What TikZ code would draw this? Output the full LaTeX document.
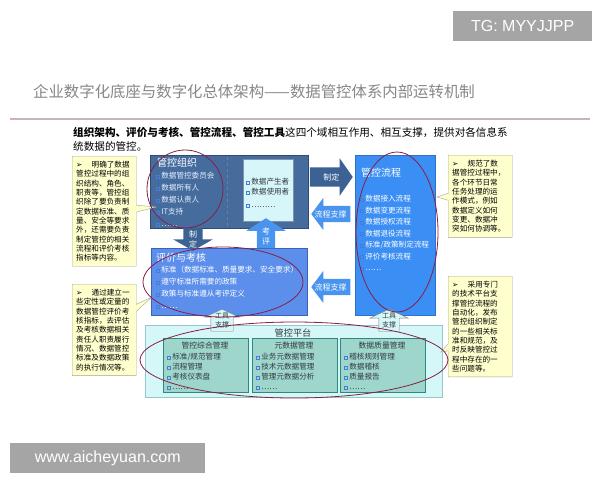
\documentclass[tikz,border=0pt]{standalone}
\usepackage{fontspec}
\setmainfont{Noto Sans CJK SC}
\newfontfamily\dv{DejaVu Sans}
\newfontfamily\wmfont{Liberation Sans}
\usepackage{xcolor}
\usetikzlibrary{shapes.arrows}
\usetikzlibrary{shapes.callouts}
\usetikzlibrary{positioning}
\usetikzlibrary{calc}

\definecolor{orgblue}{RGB}{70,108,158}
\definecolor{orgline}{RGB}{45,75,115}
\definecolor{cyanbox}{RGB}{215,246,250}
\definecolor{evalblue}{RGB}{92,143,236}
\definecolor{evalline}{RGB}{60,100,180}
\definecolor{flowblue}{RGB}{58,142,244}
\definecolor{lightarrow}{RGB}{72,148,238}
\definecolor{darkarrow}{RGB}{60,98,148}
\definecolor{platcyan}{RGB}{214,247,247}
\definecolor{platline}{RGB}{150,200,200}
\definecolor{subteal}{RGB}{158,214,204}
\definecolor{subline}{RGB}{48,135,125}
\definecolor{noteyellow}{RGB}{255,255,206}
\definecolor{notegray}{RGB}{165,165,145}
\definecolor{ringred}{RGB}{135,30,72}
\definecolor{bulletc}{RGB}{70,125,215}
\definecolor{titlegray}{RGB}{135,135,135}
\definecolor{rulepink}{RGB}{205,178,182}
\definecolor{wmgray}{RGB}{165,165,165}
\definecolor{darktext}{RGB}{50,58,62}
\definecolor{paletext}{RGB}{228,240,255}

\newcommand{\bx}{{\color{bulletc}\fboxsep=0pt\fboxrule=0.5pt\raisebox{0.6pt}{\fbox{\rule{0pt}{2.6pt}\hspace{2.6pt}}}}\hspace{1.5pt}}
\newcommand{\fs}[2]{\fontsize{#1}{#2}\selectfont}

\tikzset{
  panel/.style={draw, rectangle, anchor=north west, inner sep=0pt},
  ttl/.style={anchor=west, inner sep=0pt, text=white, font=\fs{10}{12}},
  items/.style={anchor=north west, inner sep=0pt, align=left, font=\fs{7.6}{12}},
  note/.style={rectangle callout, draw=notegray, fill=noteyellow, anchor=north west,
    inner xsep=4pt, inner ysep=5pt, text width=56pt, align=left, font=\fs{7.6}{9.3},
    callout pointer width=7pt},
  fat/.style={single arrow, draw=none, anchor=tip, inner sep=0pt},
  fattxt/.style={align=center, inner sep=0pt, text=white, font=\fs{8}{10}},
  ring/.style={draw=ringred, line width=0.8pt},
  watermark/.style={fill=wmgray, text=white, anchor=north west, inner sep=0pt, font=\wmfont\fs{16}{16}}
}

\begin{document}
\begin{tikzpicture}[x=1pt,y=-1pt]
\fill[white] (0,0) rectangle (600,480);
\useasboundingbox (0,0) rectangle (600,480);

% watermarks
\node[watermark, minimum width=139pt, minimum height=30pt] (tg) at (453,11) {TG: MYYJJPP};
\node[watermark, minimum width=195pt, minimum height=30pt] (web) at (10,443) {www.aicheyuan.com\hspace{12pt}};

% heading
\node[anchor=west, inner sep=0pt, text=titlegray, font=\fs{15.4}{16}] (title) at (33,92)
  {企业数字化底座与数字化总体架构——数据管控体系内部运转机制};
\draw[rulepink, line width=1.2pt] (10,119) -- (590,119);
\node[anchor=north west, inner sep=0pt, align=left, font=\fs{10.6}{14}] (intro) at (73,127)
  {\textbf{组织架构、评价与考核、管控流程、管控工具}这四个域相互作用、相互支撑，提供对各信息系\\统数据的管控。};

% four domains
\node[panel, draw=orgline, fill=orgblue, minimum width=158pt, minimum height=73pt] (org) at (150,155) {};
\draw[dashed, orgline!70!white] (227,157) -- (227,226);
\node[panel, draw=orgline!60, fill=cyanbox, minimum width=50pt, minimum height=62pt] (users) at (243,159) {};
\node[panel, draw=evalline, fill=evalblue, minimum width=156pt, minimum height=67pt] (eval) at (151,248) {};
\node[panel, draw=flowblue!80!black, fill=flowblue, minimum width=80pt, minimum height=160pt] (flow) at (355,155) {};
\node[panel, draw=platline, fill=platcyan, minimum width=297pt, minimum height=72pt] (plat) at (145,325) {};
\node[panel, draw=subline, fill=subteal, line width=0.8pt, minimum width=85pt, minimum height=54pt] (pz) at (163,338) {};
\node[panel, draw=subline, fill=subteal, line width=0.8pt, minimum width=85pt, minimum height=54pt] (pm) at (252,338) {};
\node[panel, draw=subline, fill=subteal, line width=0.8pt, minimum width=85pt, minimum height=54pt] (pq) at (340,338) {};

\node[ttl] at (157,163) {管控组织};
\node[items, text=paletext] at (156,172) {\bx 数据管控委员会\\\bx 数据所有人\\\bx 数据认责人\\\bx IT支持\\\bx ……};
\node[items, text=darktext, font=\fs{7.6}{10}] at (246,178) {\bx 数据产生者\\\bx 数据使用者\\[3pt]\bx ………};
\node[ttl] at (156,258) {评价与考核};
\node[items, text=white] at (156,266) {\bx 标准（数据标准、质量要求、安全要求）\\\bx 遵守标准所需要的政策\\\bx 政策与标准遵从考评定义\\\bx ……};
\node[ttl] at (361,173) {管控流程};
\node[items, text=white, font=\fs{7.6}{11.5}] at (360,195) {\bx 数据接入流程\\\bx 数据变更流程\\\bx 数据授权流程\\\bx 数据退役流程\\\bx 标准/政策制定流程\\\bx 评价考核流程\\\bx ……};

\node[inner sep=0pt, text=darktext, font=\fs{9.2}{10}] at (293,333) {管控平台};
\node[inner sep=0pt, text=darktext, font=\fs{7.8}{9}] at (205,346) {管控综合管理};
\node[inner sep=0pt, text=darktext, font=\fs{7.8}{9}] at (294,346) {元数据管理};
\node[inner sep=0pt, text=darktext, font=\fs{7.8}{9}] at (382,346) {数据质量管理};
\node[items, text=darktext, font=\fs{7.6}{10}] at (167,353) {\bx 标准/规范管理\\\bx 流程管理\\\bx 考核仪表盘\\\bx ……};
\node[items, text=darktext, font=\fs{7.6}{10}] at (256,353) {\bx 业务元数据管理\\\bx 技术元数据管理\\\bx 管理元数据分析\\\bx ……};
\node[items, text=darktext, font=\fs{7.6}{10}] at (344,353) {\bx 稽核规则管理\\\bx 数据稽核\\\bx 质量报告\\\bx ……};

% block arrows between the domains
\node[fat, fill=darkarrow, shape border rotate=270, inner xsep=9.5pt, minimum height=23pt, minimum width=39pt,
  single arrow head extend=10pt, single arrow tip angle=120] (zdown) at (193,251) {};
\node[fat, fill=lightarrow, shape border rotate=90, inner xsep=9pt, minimum height=30pt, minimum width=39pt,
  single arrow head extend=10.5pt, single arrow tip angle=115] (kup) at (266,218) {};
\node[fat, fill=darkarrow, shape border rotate=0, inner ysep=9.5pt, minimum height=43pt, minimum width=37pt,
  single arrow head extend=9pt, single arrow tip angle=110] (zright) at (353,177) {};
\node[fat, fill=lightarrow, shape border rotate=180, inner ysep=8pt, minimum height=39pt, minimum width=32pt,
  single arrow head extend=8pt, single arrow tip angle=106] (lcup) at (311,214) {};
\node[fat, fill=lightarrow, shape border rotate=180, inner ysep=8pt, minimum height=39pt, minimum width=32pt,
  single arrow head extend=8pt, single arrow tip angle=106] (lclow) at (311,287) {};
\node[fat, draw=gray, fill=platcyan, shape border rotate=90, inner xsep=11pt, minimum height=22pt, minimum width=34pt,
  single arrow head extend=6pt, single arrow tip angle=130] (gjl) at (222,309) {};
\node[fat, draw=gray, fill=platcyan, shape border rotate=90, inner xsep=10pt, minimum height=22pt, minimum width=38pt,
  single arrow head extend=9pt, single arrow tip angle=130] (gjr) at (389,309) {};

\node[fattxt] at ($(zdown.tip)!0.5!(zdown.tail)$) {制\\定};
\node[fattxt] at ($(kup.tip)!0.6!(kup.tail)$) {考\\评};
\node[fattxt] at ($(zright.tip)!0.5!(zright.tail)$) {制定};
\node[fattxt] at ($(lcup.tip)!0.5!(lcup.tail)$) {流程支撑};
\node[fattxt] at ($(lclow.tip)!0.5!(lclow.tail)$) {流程支撑};
\node[fattxt, text=darktext, font=\fs{7}{9}] at ($(gjl.tip)!0.5!(gjl.tail)$) {工具\\支撑};
\node[fattxt, text=darktext, font=\fs{7}{9}] at ($(gjr.tip)!0.5!(gjr.tail)$) {工具\\支撑};

% side notes
\node[note, callout absolute pointer={(156,207)}] (n1) at (72,156)
  {{\dv ➢}\hspace{1.2em}明确了数据\\管控过程中的组\\织结构、角色、\\职责等，管控组\\织除了要负责制\\定数据标准、质\\量、安全等要求\\外，还需要负责\\制定管控的相关\\流程和评价考核\\指标等内容。};
\node[note, callout absolute pointer={(152,297)}] (n2) at (72,284)
  {{\dv ➢}\hspace{1.2em}通过建立一\\些定性或定量的\\数据管控评价考\\核指标，去评估\\及考核数据相关\\责任人职责履行\\情况、数据管控\\标准及数据政策\\的执行情况等。};
\node[note, callout absolute pointer={(437,197)}] (n3) at (448,155)
  {{\dv ➢}\hspace{1.2em}规范了数\\据管控过程中，\\各个环节日常\\任务处理的运\\作模式，例如\\数据定义如何\\变更、数据冲\\突如何协调等。};
\node[note, callout absolute pointer={(441,352)}] (n4) at (448,276)
  {{\dv ➢}\hspace{1.2em}采用专门\\的技术平台支\\撑管控流程的\\自动化，发布\\管控组织制定\\的一些相关标\\准和规范，及\\时反映管控过\\程中存在的一\\些问题等。};

% red rings
\draw[ring] (185,189) ellipse [x radius=38, y radius=39];
\draw[ring] (223,282) ellipse [x radius=80, y radius=35];
\draw[ring] (397,232) ellipse [x radius=41, y radius=80];
\draw[ring] (294,360) ellipse [x radius=154, y radius=38];
\end{tikzpicture}
\end{document}
